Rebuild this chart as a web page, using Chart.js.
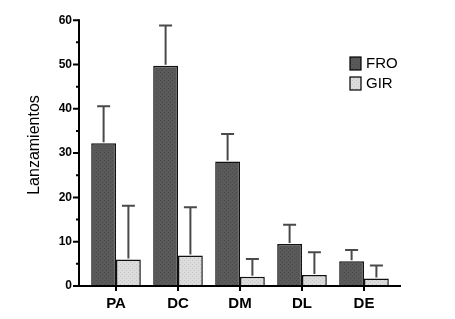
<!DOCTYPE html>
<html>
<head>
<meta charset="utf-8">
<script src="https://cdn.jsdelivr.net/npm/chart.js@4/dist/chart.umd.min.js"></script>
<style>
  html, body { margin: 0; padding: 0; background: #fff; }
  #wrap { width: 455px; height: 319px; }
</style>
</head>
<body>
<div id="wrap"><canvas id="lanz-chart" width="455" height="319"></canvas></div>
<script>
const categories = ['PA', 'DC', 'DM', 'DL', 'DE'];
const froValues = [32.2, 49.7, 28.1, 9.5, 5.6];
const froErrors = [8.4, 9.1, 6.2, 4.3, 2.5];
const girValues = [6.0, 6.9, 2.1, 2.5, 1.7];
const girErrors = [12.1, 10.9, 4.0, 5.1, 2.9];
const yTicks = [0, 10, 20, 30, 40, 50, 60];
const yTitle = 'Lanzamientos';

function stipple(base, dot) {
  const c = document.createElement('canvas');
  c.width = 4; c.height = 4;
  const g = c.getContext('2d');
  g.fillStyle = base;
  g.fillRect(0, 0, 4, 4);
  g.fillStyle = dot;
  g.fillRect(0, 0, 1, 1);
  g.fillRect(2, 2, 1, 1);
  return g.createPattern(c, 'repeat');
}

const ctx = document.getElementById('lanz-chart').getContext('2d');

const froFill = stipple('#5a5a5a', '#4a4a4a');
const girFill = stipple('#dcdcdc', '#c4c4c4');

// error bars, axis lines, tick marks, title and legend drawn by hand
const extras = {
  id: 'extras',
  afterDatasetsDraw(chart) {
    const c = chart.ctx;
    const x = chart.scales.x;
    const y = chart.scales.y;
    const area = chart.chartArea;
    const errs = [froErrors, girErrors];

    c.save();
    chart.data.datasets.forEach((ds, i) => {
      const meta = chart.getDatasetMeta(i);
      meta.data.forEach((bar, j) => {
        const top = y.getPixelForValue(ds.data[j] + errs[i][j]);
        c.strokeStyle = '#4a4a4a';
        c.lineWidth = 2;
        c.beginPath();
        c.moveTo(bar.x, bar.y - 1);
        c.lineTo(bar.x, top);
        c.moveTo(bar.x - 6.5, top);
        c.lineTo(bar.x + 6.5, top);
        c.stroke();
      });
    });

    const axX = area.left - 6;
    c.strokeStyle = '#000';
    c.lineWidth = 2;
    c.beginPath();
    c.moveTo(axX, y.getPixelForValue(60) - 1);
    c.lineTo(axX, area.bottom);
    c.moveTo(axX - 1, area.bottom);
    c.lineTo(area.right + 6, area.bottom);
    c.stroke();

    c.beginPath();
    for (let v = 0; v <= 60; v += 5) {
      const py = y.getPixelForValue(v);
      const len = v % 10 === 0 ? 6 : 3;
      c.moveTo(axX - len, py);
      c.lineTo(axX, py);
    }
    categories.forEach((cat, j) => {
      const px = x.getPixelForValue(j);
      c.moveTo(px, area.bottom);
      c.lineTo(px, area.bottom + 5);
    });
    c.stroke();

    // y title
    c.save();
    c.translate(35, 145);
    c.rotate(-Math.PI / 2);
    c.font = '16px "Liberation Sans", Arial, sans-serif';
    c.textAlign = 'center';
    c.textBaseline = 'middle';
    c.fillStyle = '#000';
    c.fillText(yTitle, 0, 0);
    c.restore();

    // legend
    c.font = '15px "Liberation Sans", Arial, sans-serif';
    c.textBaseline = 'middle';
    chart.data.datasets.forEach((ds, i) => {
      const ly = 57 + i * 20;
      c.fillStyle = ds.backgroundColor;
      c.fillRect(350, ly, 11, 13);
      c.strokeStyle = '#000';
      c.lineWidth = 1.2;
      c.strokeRect(350, ly, 11, 13);
      c.fillStyle = '#000';
      c.fillText(ds.label, 366, ly + 7);
    });
    c.restore();
  }
};

new Chart(ctx, {
  type: 'bar',
  data: {
    labels: categories,
    datasets: [
      {
        label: 'FRO',
        data: froValues,
        backgroundColor: froFill,
        borderColor: '#111',
        borderWidth: 1.5,
        borderSkipped: 'bottom',
      },
      {
        label: 'GIR',
        data: girValues,
        backgroundColor: girFill,
        borderColor: '#111',
        borderWidth: 1.5,
        borderSkipped: 'bottom',
      },
    ],
  },
  options: {
    responsive: false,
    animation: false,
    layout: { padding: { top: 11, right: 60, left: 0, bottom: 0 } },
    plugins: { legend: { display: false }, tooltip: { enabled: false } },
    datasets: { bar: { categoryPercentage: 0.8, barPercentage: 1.0 } },
    scales: {
      x: {
        type: 'category',
        grid: { display: false, drawTicks: false },
        border: { display: false },
        afterFit: (s) => { s.height = 33; },
        ticks: {
          padding: 9,
          color: '#000',
          font: { family: '"Liberation Sans", Arial, sans-serif', size: 15, weight: 'bold' },
        },
      },
      y: {
        min: 0,
        max: 60,
        grid: { display: false, drawTicks: false },
        border: { display: false },
        afterFit: (s) => { s.width = 85; },
        afterBuildTicks: (s) => { s.ticks = yTicks.map((v) => ({ value: v })); },
        ticks: {
          padding: 13,
          color: '#000',
          font: { family: '"Liberation Sans", Arial, sans-serif', size: 12, weight: 'bold' },
        },
      },
    },
  },
  plugins: [extras],
});
</script>
</body>
</html>
